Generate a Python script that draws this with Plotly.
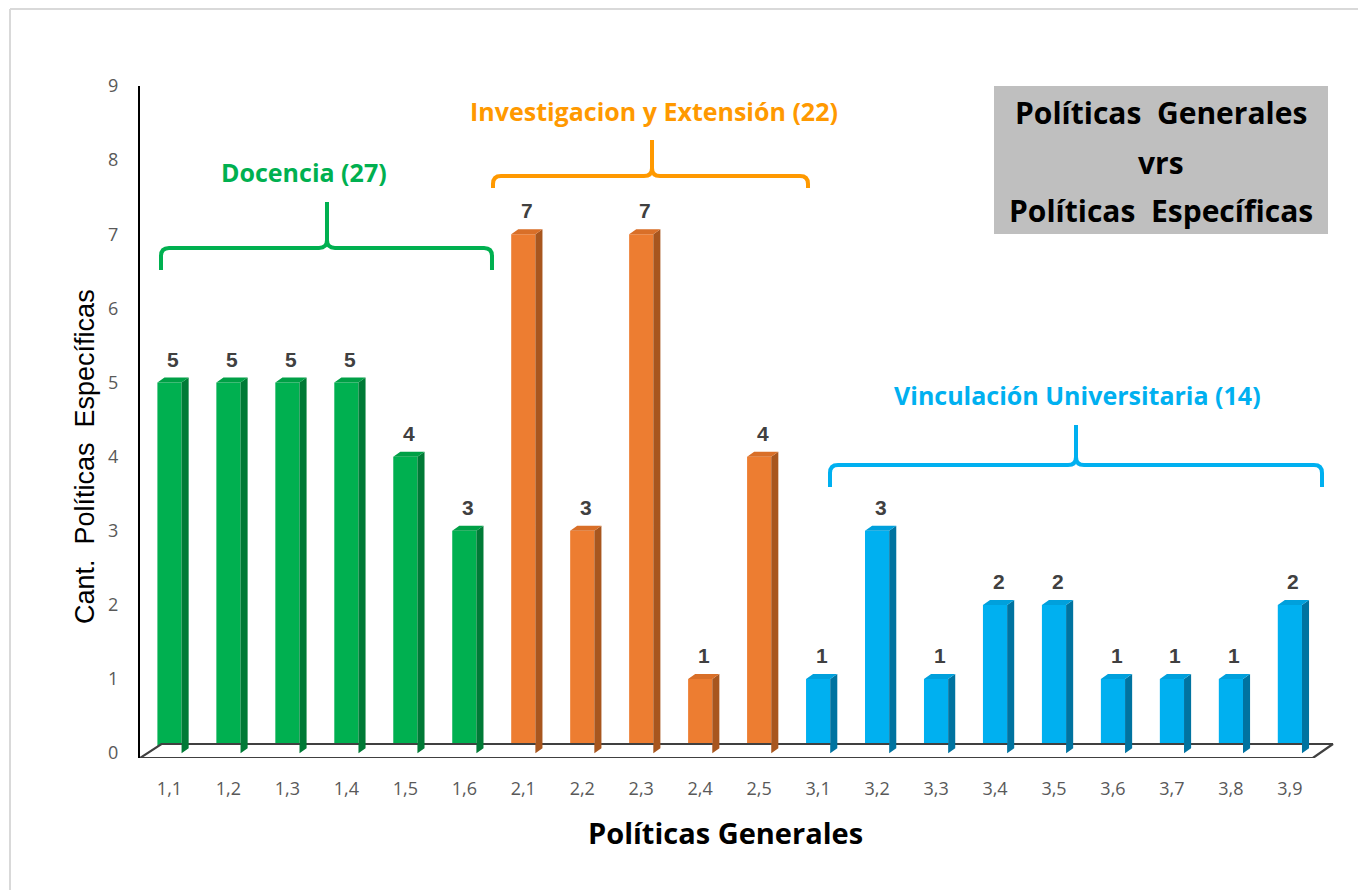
import plotly.graph_objects as go

# ---------------- data ----------------
categories = ["1,1", "1,2", "1,3", "1,4", "1,5", "1,6",
              "2,1", "2,2", "2,3", "2,4", "2,5",
              "3,1", "3,2", "3,3", "3,4", "3,5", "3,6", "3,7", "3,8", "3,9"]
values = [5, 5, 5, 5, 4, 3,
          7, 3, 7, 1, 4,
          1, 3, 1, 2, 2, 1, 1, 1, 2]
group_of = [0] * 6 + [1] * 5 + [2] * 9
group_names = ["Docencia", "Investigacion y Extensión", "Vinculación Universitaria"]
y_ticks = list(range(0, 10))

# ---------------- style ----------------
front_col = ["#00B050", "#ED7D31", "#00B0F0"]
top_col = ["#00A046", "#D96F28", "#00A0DC"]
side_col = ["#007A36", "#A8561E", "#0073A0"]
label_col = ["#00B050", "#FF9900", "#00B0F0"]
brace_col = ["#00B050", "#FF9900", "#00B0F0"]

OFF = 8                       # page body margin
W, H = 1366 - OFF, 890 - OFF
ML, MR, MT, MB = 132, 26, 78, 132
PW, PH = W - ML - MR, H - MT - MB
XR = [-0.5, 19.85]
YR = [-0.065, 9.0]

def xp(px):   # page pixel -> paper
    return (px - OFF - ML) / PW

def yp(py):
    return (H - MB - (py - OFF)) / PH

BW = 0.41     # front width (category units)
DX = 0.12     # depth offset x
DY = 0.067    # depth offset y

xs = list(range(len(categories)))

fig = go.Figure()

# floor
fx = [XR[0], 19.39, 19.73, -0.136, XR[0]]
fy = [YR[0], YR[0], 0.124, 0.124, YR[0]]
fig.add_trace(go.Scatter(x=fx, y=fy, mode="lines", fill="toself",
                         fillcolor="white", line=dict(color="#404040", width=2.2),
                         hoverinfo="skip", showlegend=False))

# front faces
fig.add_trace(go.Bar(x=xs, y=values, width=BW,
                     marker=dict(color=[front_col[g] for g in group_of], line=dict(width=0)),
                     hoverinfo="skip", showlegend=False))

# side & top faces
for g in range(3):
    sx, sy, tx, ty = [], [], [], []
    for i, v in enumerate(values):
        if group_of[i] != g:
            continue
        r = i + BW / 2
        l = i - BW / 2
        sx += [r, r + DX, r + DX, r, r, None]
        sy += [0, DY, v + DY, v, 0, None]
        tx += [l, r, r + DX, l + DX, l, None]
        ty += [v, v, v + DY, v + DY, v, None]
    fig.add_trace(go.Scatter(x=sx, y=sy, mode="lines", fill="toself",
                             fillcolor=side_col[g], line=dict(width=0, color=side_col[g]),
                             hoverinfo="skip", showlegend=False))
    fig.add_trace(go.Scatter(x=tx, y=ty, mode="lines", fill="toself",
                             fillcolor=top_col[g], line=dict(width=0, color=top_col[g]),
                             hoverinfo="skip", showlegend=False))

annotations = []
# value labels
for i, v in enumerate(values):
    annotations.append(dict(x=i + DX / 2, y=v + DY, xref="x", yref="y",
                            text=f"<b>{v}</b>", showarrow=False, yanchor="bottom",
                            yshift=5, font=dict(family="Liberation Sans, Arial", size=21, color="#404040")))

# group braces + labels (page pixel layout)
braces = [
    dict(x0=161, x1=492, xt=327, ym=248, yb=270, ytip=202, tx=304, ty=172),
    dict(x0=493, x1=808, xt=652, ym=176, yb=188, ytip=140, tx=654, ty=111),
    dict(x0=830, x1=1322, xt=1076, ym=465, yb=487, ytip=425, tx=1077, ty=395),
]
shapes = []

def P(a, c):
    return f"{xp(a):.5f},{yp(c):.5f}"

for g, b in enumerate(braces):
    r = 8
    path = (f"M {P(b['x0'], b['yb'])} L {P(b['x0'], b['ym'] + r)} "
            f"Q {P(b['x0'], b['ym'])} {P(b['x0'] + r, b['ym'])} "
            f"L {P(b['xt'] - r, b['ym'])} Q {P(b['xt'], b['ym'])} {P(b['xt'], b['ym'] - r)} "
            f"L {P(b['xt'], b['ytip'])} M {P(b['xt'], b['ym'] - r)} "
            f"Q {P(b['xt'], b['ym'])} {P(b['xt'] + r, b['ym'])} "
            f"L {P(b['x1'] - r, b['ym'])} Q {P(b['x1'], b['ym'])} {P(b['x1'], b['ym'] + r)} "
            f"L {P(b['x1'], b['yb'])}")
    shapes.append(dict(type="path", path=path, xref="paper", yref="paper",
                       line=dict(color=brace_col[g], width=4)))
    total = sum(v for v, gg in zip(values, group_of) if gg == g)
    annotations.append(dict(x=xp(b["tx"]), y=yp(b["ty"]), xref="paper", yref="paper",
                            text=f"<b>{group_names[g]} ({total})</b>", showarrow=False,
                            xanchor="center", yanchor="middle",
                            font=dict(family="Open Sans", size=25, color=label_col[g])))

# title box
shapes.append(dict(type="rect", xref="paper", yref="paper", x0=xp(994), x1=xp(1328),
                   y0=yp(234), y1=yp(86), fillcolor="#BFBFBF", line=dict(width=0), layer="below"))
for txt, yy in [("Políticas  Generales", 113), ("vrs", 162), ("Políticas  Específicas", 210)]:
    annotations.append(dict(x=xp(1161), y=yp(yy), xref="paper", yref="paper",
                            text=f"<b>{txt}</b>", showarrow=False, xanchor="center", yanchor="middle",
                            font=dict(family="Open Sans", size=30, color="black")))

# axis titles
annotations.append(dict(x=xp(85), y=yp(457), xref="paper", yref="paper", textangle=-90,
                        text="Cant.  Políticas  Específicas", showarrow=False,
                        xanchor="center", yanchor="middle",
                        font=dict(family="Liberation Sans, Arial", size=27, color="black")))
annotations.append(dict(x=xp(725), y=yp(832), xref="paper", yref="paper",
                        text="<b>Políticas Generales</b>", showarrow=False,
                        xanchor="center", yanchor="middle",
                        font=dict(family="Open Sans", size=29, color="black")))

# outer border (top & left)
shapes.append(dict(type="line", xref="paper", yref="paper", x0=xp(10), x1=xp(1380), y0=yp(9), y1=yp(9),
                   line=dict(color="#D9D9D9", width=2)))
shapes.append(dict(type="line", xref="paper", yref="paper", x0=xp(10), x1=xp(10), y0=yp(9), y1=yp(900),
                   line=dict(color="#D9D9D9", width=2)))

fig.update_layout(
    width=W, height=H,
    margin=dict(l=ML, r=MR, t=MT, b=MB),
    paper_bgcolor="white", plot_bgcolor="white",
    showlegend=False,
    xaxis=dict(range=XR, tickvals=xs, ticktext=categories, showgrid=False, zeroline=False,
               showline=False, ticks="", ticklabelstandoff=18,
               tickfont=dict(family="Open Sans", size=18, color="#595959")),
    yaxis=dict(range=YR, tickvals=y_ticks, showgrid=False, zeroline=False,
               showline=True, linecolor="black", linewidth=2, ticks="", ticklabelstandoff=16,
               tickfont=dict(family="Open Sans", size=18, color="#595959")),
    shapes=shapes, annotations=annotations,
    bargap=0.5,
)

fig.write_html("out.html")
